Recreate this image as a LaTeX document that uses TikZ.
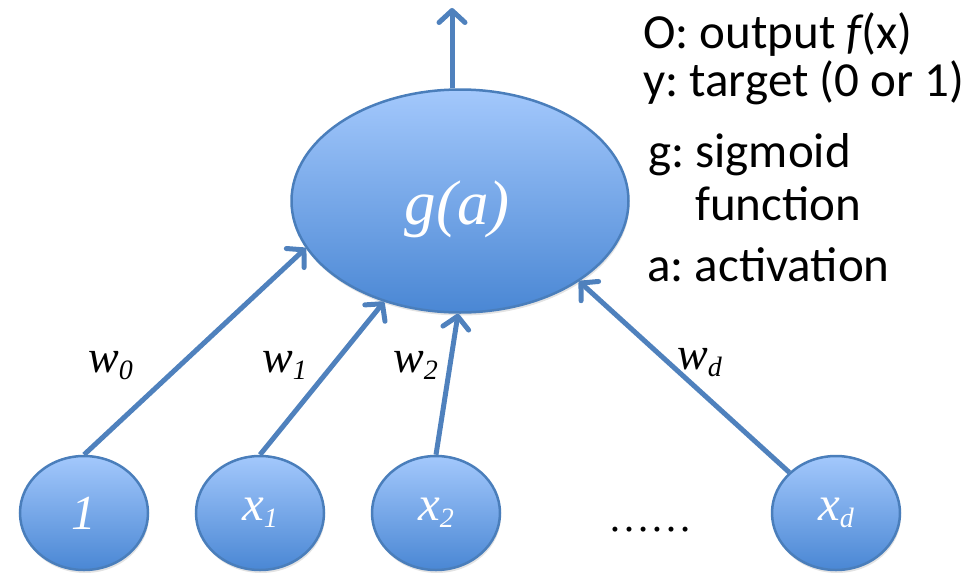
\documentclass[tikz,border=0pt]{standalone}
\usepackage{fontspec}
\setmainfont{Liberation Serif}[ItalicFont={Liberation Serif Italic},BoldFont={Liberation Serif Bold}]
\newfontfamily\calib{Carlito}
\usetikzlibrary{shapes.geometric,arrows.meta,shadows}
\definecolor{edgeblue}{HTML}{4F81BD}
\definecolor{rimblue}{HTML}{4A7EBB}
\definecolor{topblue}{HTML}{A3C8FC}
\definecolor{botblue}{HTML}{4A87D4}
\newcommand{\mysub}[1]{\raisebox{-7pt}{\fontsize{28}{28}\selectfont #1}}
\frenchspacing
\begin{document}
\begin{tikzpicture}[x=1pt,y=-1pt,
  unit/.style={ellipse, draw=rimblue, line width=2.5pt, top color=topblue,
    bottom color=botblue, inner sep=0pt, text=white,
    font=\itshape\fontsize{49}{49}\selectfont,
    drop shadow={opacity=0.22,shadow xshift=1pt,shadow yshift=-3pt}},
  inunit/.style={unit, minimum width=128pt, minimum height=114pt},
  conn/.style={draw=edgeblue, line width=5pt,
    -{Straight Barb[length=12pt,width=26pt,line cap=round,line join=round]}},
  wlabel/.style={anchor=base west, inner sep=0pt,
    font=\itshape\fontsize{46}{46}\selectfont},
  legend/.style={anchor=base west, inner sep=0pt,
    font=\calib\frenchspacing\fontsize{49}{49}\selectfont}]
\useasboundingbox (0,0) rectangle (967,573);

% hidden unit
\node[unit, minimum width=337pt, minimum height=223pt] (g) at (460,201) {};
\node[inner sep=0pt, text=white, font=\itshape\fontsize{63}{63}\selectfont,
  anchor=base] (glabel) at (457,224) {g(a)};

% inputs
\node[inunit] (in0) at (84,513) {1};
\node[inunit] (in1) at (260,513) {x\mysub{1}};
\node[inunit] (in2) at (436,513) {x\mysub{2}};
\node[inunit] (ind) at (836,513) {x\mysub{d}};
\node[anchor=base, inner sep=0pt, font=\fontsize{42}{42}\selectfont] (dots) at (650,531) {……};

% connectors
\draw[conn] (in0.north) -- (g.197.8);
\draw[conn] (in1.north) -- (g.233.6);
\draw[conn] (in2.north) -- (g.269);
\draw[conn] (ind.139) -- (g.326.1);
\coordinate (top) at (452,8);
\draw[conn] (g.north -| top) -- (top);

% weights
\node[wlabel] (w0) at (88,372) {w\mysub{0}};
\node[wlabel] (w1) at (262,372) {w\mysub{1}};
\node[wlabel] (w2) at (393,372) {w\mysub{2}};
\node[wlabel] (wd) at (677,369) {w\mysub{d}};

% legend
\node[legend] (l1) at (643,48) {O: output {\itshape f}(x)};
\node[legend] (l2) at (643,96) {y: target (0 or 1)};
\node[legend] (l3) at (648,167) {g: sigmoid};
\node[legend] (l4) at (695,220) {function};
\node[legend] (l5) at (647,281) {a: activation};
\end{tikzpicture}
\end{document}
